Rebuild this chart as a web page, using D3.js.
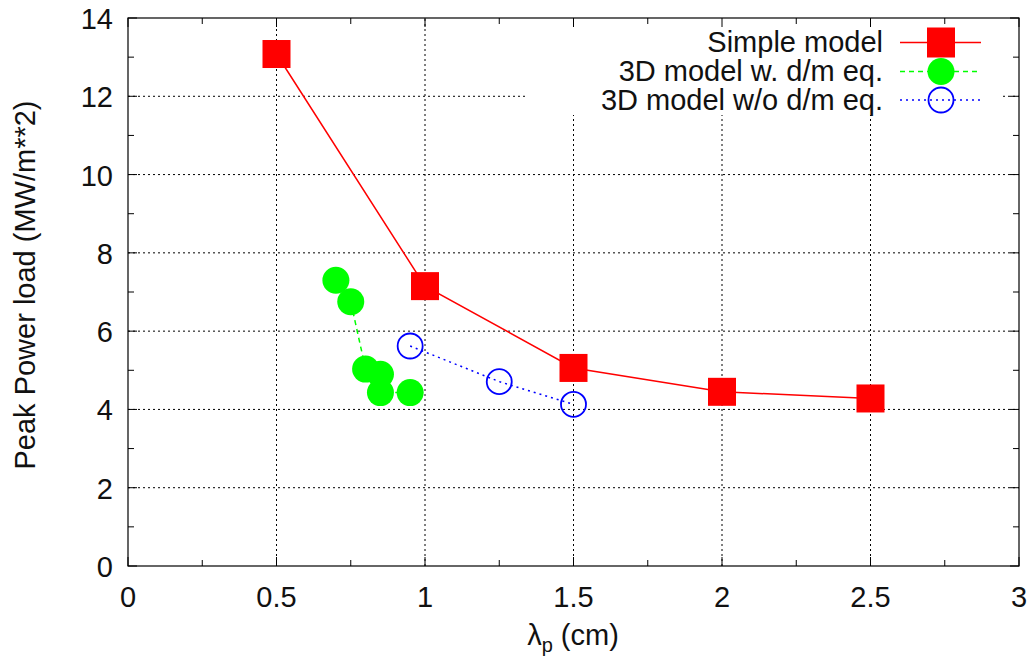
<!DOCTYPE html>
<html><head><meta charset="utf-8">
<script src="https://cdn.jsdelivr.net/npm/d3@7"></script>
<style>body{margin:0;background:#fff;}text{font-family:"Liberation Sans",Arial,sans-serif;}</style>
</head><body>
<svg id="c" width="1035" height="662"></svg>
<script>
const simpleX = [0.5, 1, 1.5, 2, 2.5];
const simpleY = [13.08, 7.15, 5.06, 4.45, 4.28];
const dmX = [0.7, 0.75, 0.8, 0.85, 0.85, 0.95];
const dmY = [7.3, 6.75, 5.03, 4.9, 4.43, 4.43];
const nodmX = [0.95, 1.25, 1.5];
const nodmY = [5.62, 4.71, 4.13];
const xTicks = [0, 0.5, 1, 1.5, 2, 2.5, 3];
const yTicks = [0, 2, 4, 6, 8, 10, 12, 14];
const legendLabels = ["Simple model", "3D model w. d/m eq.", "3D model w/o d/m eq."];

const svg = d3.select("#c");
const L = 128, R = 1019, T = 18, B = 566;
const x = d3.scaleLinear().domain([0, 3]).range([L, R]);
const y = d3.scaleLinear().domain([0, 14]).range([B, T]);

// grid
const grid = svg.append("g").attr("stroke", "#000").attr("stroke-width", 1).attr("stroke-dasharray", "2,3");
xTicks.slice(1, -1).forEach(v => grid.append("line").attr("x1", x(v)).attr("x2", x(v)).attr("y1", B).attr("y2", T));
yTicks.slice(1, -1).forEach(v => grid.append("line").attr("x1", L).attr("x2", R).attr("y1", y(v)).attr("y2", y(v)));
// legend background covering grid
svg.append("rect").attr("x", 525).attr("y", T + 1).attr("width", 475).attr("height", 96).attr("fill", "#fff");

// frame
svg.append("rect").attr("x", L).attr("y", T).attr("width", R - L).attr("height", B - T)
  .attr("fill", "none").attr("stroke", "#000").attr("stroke-width", 1.2);

// ticks inward
const tk = svg.append("g").attr("stroke", "#000").attr("stroke-width", 1);
d3.range(0, 3.001, 0.25).forEach((v, i) => {
  const len = (i % 2 === 0) ? 9 : 6;
  tk.append("line").attr("x1", x(v)).attr("x2", x(v)).attr("y1", B).attr("y2", B - len);
  tk.append("line").attr("x1", x(v)).attr("x2", x(v)).attr("y1", T).attr("y2", T + len);
});
d3.range(0, 14.001, 1).forEach((v, i) => {
  const len = (i % 2 === 0) ? 9 : 6;
  tk.append("line").attr("y1", y(v)).attr("y2", y(v)).attr("x1", L).attr("x2", L + len);
  tk.append("line").attr("y1", y(v)).attr("y2", y(v)).attr("x1", R).attr("x2", R - len);
});

// tick labels
const fs = 29;
xTicks.forEach(v => svg.append("text").attr("x", x(v)).attr("y", 607).attr("text-anchor", "middle")
  .attr("font-size", fs).attr("fill", "#111").text(v));
yTicks.forEach(v => svg.append("text").attr("x", 113).attr("y", y(v) + 11).attr("text-anchor", "end")
  .attr("font-size", fs).attr("fill", "#111").text(v));

// axis titles
svg.append("text").attr("transform", `translate(35,285) rotate(-90)`).attr("text-anchor", "middle")
  .attr("font-size", fs).attr("fill", "#111").text("Peak Power load (MW/m**2)");
const xl = svg.append("text").attr("x", 573).attr("y", 645).attr("text-anchor", "middle")
  .attr("font-size", fs).attr("fill", "#111");
xl.append("tspan").text("λ");
xl.append("tspan").attr("font-size", 20).attr("dy", 7).text("p");
xl.append("tspan").attr("dy", -7).text(" (cm)");

const line = d3.line().x(d => x(d[0])).y(d => y(d[1]));
const simple = simpleX.map((v, i) => [v, simpleY[i]]);
const dm = dmX.map((v, i) => [v, dmY[i]]);
const nodm = nodmX.map((v, i) => [v, nodmY[i]]);

svg.append("path").datum(simple).attr("d", line).attr("fill", "none").attr("stroke", "#f00").attr("stroke-width", 1.5);
svg.append("path").datum(dm).attr("d", line).attr("fill", "none").attr("stroke", "#0f0").attr("stroke-width", 1.5).attr("stroke-dasharray", "5,4");
svg.append("path").datum(nodm).attr("d", line).attr("fill", "none").attr("stroke", "#00f").attr("stroke-width", 1.5).attr("stroke-dasharray", "2,4");

const sq = 28, rr = 13.5;
svg.selectAll(".sq").data(simple).enter().append("rect")
  .attr("x", d => x(d[0]) - sq / 2).attr("y", d => y(d[1]) - sq / 2).attr("width", sq).attr("height", sq).attr("fill", "#f00");
svg.selectAll(".gc").data(dm).enter().append("circle")
  .attr("cx", d => x(d[0])).attr("cy", d => y(d[1])).attr("r", rr).attr("fill", "#0f0");
svg.selectAll(".bc").data(nodm).enter().append("circle")
  .attr("cx", d => x(d[0])).attr("cy", d => y(d[1])).attr("r", rr - 1).attr("fill", "none").attr("stroke", "#00f").attr("stroke-width", 1.8);

// legend
const ly = [42.5, 71.5, 100];
legendLabels.forEach((t, i) => svg.append("text").attr("x", 883).attr("y", ly[i] + 9.5).attr("text-anchor", "end")
  .attr("font-size", fs).attr("fill", "#111").text(t));
const lx1 = 900, lx2 = 981, lmx = 941;
svg.append("line").attr("x1", lx1).attr("x2", lx2).attr("y1", ly[0]).attr("y2", ly[0]).attr("stroke", "#f00").attr("stroke-width", 1.5);
svg.append("rect").attr("x", lmx - sq / 2).attr("y", ly[0] - 15).attr("width", sq).attr("height", 30).attr("fill", "#f00");
svg.append("line").attr("x1", lx1).attr("x2", lx2).attr("y1", ly[1]).attr("y2", ly[1]).attr("stroke", "#0f0").attr("stroke-width", 1.5).attr("stroke-dasharray", "5,4");
svg.append("circle").attr("cx", lmx).attr("cy", ly[1]).attr("r", rr).attr("fill", "#0f0");
svg.append("line").attr("x1", lx1).attr("x2", lx2).attr("y1", ly[2]).attr("y2", ly[2]).attr("stroke", "#00f").attr("stroke-width", 1.5).attr("stroke-dasharray", "2,4");
svg.append("circle").attr("cx", lmx).attr("cy", ly[2]).attr("r", rr - 1).attr("fill", "none").attr("stroke", "#00f").attr("stroke-width", 1.8);
</script>
</body></html>
